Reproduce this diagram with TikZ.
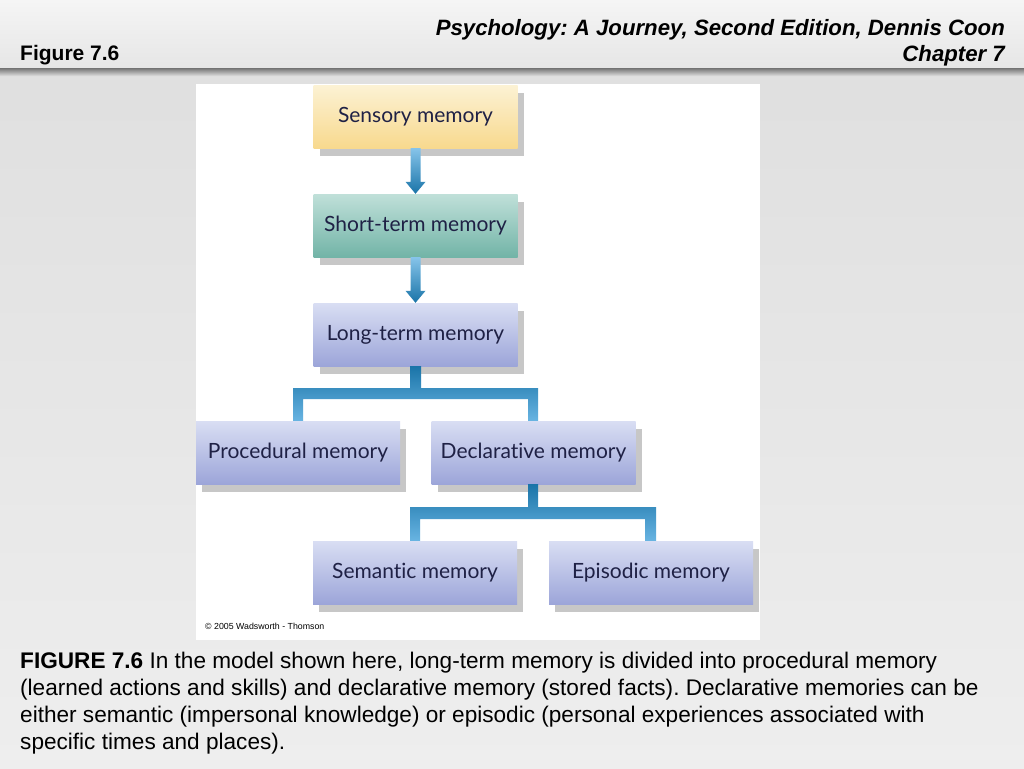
\documentclass[tikz,border=0pt]{standalone}
\usepackage{fontspec}
\setmainfont{Liberation Sans}
\newfontfamily\boxfont[Ligatures={NoCommon,NoRare}]{Lato}
\usetikzlibrary{shadows,calc}
\frenchspacing
\definecolor{bgA}{HTML}{DEDEDE}
\definecolor{bgB}{HTML}{EEEEEE}
\definecolor{hdTop}{HTML}{F5F5F5}
\definecolor{hdBot}{HTML}{E6E6E6}
\definecolor{sensTop}{HTML}{FCF2D4}
\definecolor{sensBot}{HTML}{F8D98E}
\definecolor{stmTop}{HTML}{C0E0D9}
\definecolor{stmBot}{HTML}{72B4A7}
\definecolor{lavTop}{HTML}{D9DEF3}
\definecolor{lavBot}{HTML}{9CA5D9}
\definecolor{boxText}{HTML}{1F2145}
\definecolor{arrLight}{HTML}{86C4EA}
\definecolor{arrDark}{HTML}{1A74A8}
\definecolor{conMid}{HTML}{2B8AC2}
\definecolor{conLight}{HTML}{68B4E2}
\begin{document}
\begin{tikzpicture}[x=1pt,y=-1pt,
  membox/.style={minimum width=204pt, minimum height=63pt, inner sep=0pt,
    font=\boxfont\fontsize{21}{24}\selectfont, text=boxText,
    drop shadow={shadow xshift=6pt, shadow yshift=-8pt, fill=black!22, opacity=1}},
  sensbox/.style={membox, top color=sensTop, bottom color=sensBot},
  stmbox/.style={membox, top color=stmTop, bottom color=stmBot},
  lavbox/.style={membox, top color=lavTop, bottom color=lavBot},
  arrowshade/.style={top color=arrLight, bottom color=arrDark},
  treeshade/.style={top color=arrDark, middle color=conMid, bottom color=conLight},
  captext/.style={anchor=base west, inner sep=0pt, font=\fontsize{22.6}{27}\selectfont, text=black},
  hdtext/.style={inner sep=0pt, font=\bfseries\itshape\fontsize{22.2}{24}\selectfont, text=black}
]
\useasboundingbox (0,0) rectangle (1024,768);
% slide background
\shade[top color=bgA, bottom color=bgB] (0,0) rectangle (1024,768);
% header band
\shade[top color=hdTop, bottom color=hdBot] (0,0) rectangle (1024,68);
\shade[top color=black!55, bottom color=bgA] (0,68) rectangle (1024,76);
\node[hdtext, anchor=base east] (title) at (1005,36) {Psychology: A Journey, Second Edition, Dennis Coon};
\node[hdtext, anchor=base east] (chap) at (1005,61) {Chapter 7};
\node[inner sep=0pt, anchor=base west, font=\bfseries\fontsize{21}{24}\selectfont] (fig) at (20,60) {Figure 7.6};
% white panel
\fill[white] (196,84) rectangle (760,640);
% boxes
\node[sensbox] (sm)  at (415.5,116.5) {Sensory memory};
\node[stmbox]  (stm) at (415.5,225.5) {Short-term memory};
\node[lavbox]  (ltm) at (415.5,334.5) {Long-term memory};
\node[lavbox]  (pm)  at (298,452.5)   {Procedural memory};
\node[lavbox]  (dm)  at (533.5,452.5) {Declarative memory};
\node[lavbox]  (sem) at (415,572.5)   {Semantic memory};
\node[lavbox]  (epi) at (651,572.5)   {Episodic memory};
% arrows
\shade[arrowshade] ($(sm.south)+(-5,0)$) -- ($(sm.south)+(5,0)$) -- ($(stm.north)+(5,-12)$) -- ($(stm.north)+(10,-12)$) -- (stm.north) -- ($(stm.north)+(-10,-12)$) -- ($(stm.north)+(-5,-12)$) -- cycle;
\shade[arrowshade] ($(stm.south)+(-5,0)$) -- ($(stm.south)+(5,0)$) -- ($(ltm.north)+(5,-12)$) -- ($(ltm.north)+(10,-12)$) -- (ltm.north) -- ($(ltm.north)+(-10,-12)$) -- ($(ltm.north)+(-5,-12)$) -- cycle;
% tree 1
\coordinate (ta) at ($(ltm.south)+(0,22)$);
\coordinate (tb) at ($(ltm.south)+(0,33)$);
\shade[treeshade] ($(ltm.south)+(-5.5,0)$) -- ($(ltm.south)+(5.5,0)$) -- ($(ta)+(5.5,0)$)
  -- ($(dm.north|-ta)+(4.5,0)$) -- ($(dm.north)+(4.5,0)$) -- ($(dm.north)+(-5.5,0)$)
  -- ($(dm.north|-tb)+(-5.5,0)$) -- ($(pm.north|-tb)+(5,0)$) -- ($(pm.north)+(5,0)$)
  -- ($(pm.north)+(-5,0)$) -- ($(pm.north|-ta)+(-5,0)$) -- ($(ta)+(-5.5,0)$) -- cycle;
% tree 2
\coordinate (tc) at ($(dm.south)+(0,23)$);
\coordinate (td) at ($(dm.south)+(0,35)$);
\shade[treeshade] ($(dm.south)+(-5.5,0)$) -- ($(dm.south)+(4.5,0)$) -- ($(tc)+(4.5,0)$)
  -- ($(epi.north|-tc)+(5,0)$) -- ($(epi.north)+(5,0)$) -- ($(epi.north)+(-6,0)$)
  -- ($(epi.north|-td)+(-6,0)$) -- ($(sem.north|-td)+(5,0)$) -- ($(sem.north)+(5,0)$)
  -- ($(sem.north)+(-5,0)$) -- ($(sem.north|-tc)+(-5,0)$) -- ($(tc)+(-5.5,0)$) -- cycle;
% copyright
\node[anchor=west, inner sep=0pt, font=\fontsize{8.8}{10}\selectfont] (copy) at (205,626) {© 2005 Wadsworth - Thomson};
% caption
\node[captext] (cap1) at (20,668) {\textbf{FIGURE 7.6} In the model shown here, long-term memory is divided into procedural memory};
\node[captext] (cap2) at (20,695) {(learned actions and skills) and declarative memory (stored facts). Declarative memories can be};
\node[captext] (cap3) at (20,722) {either semantic (impersonal knowledge) or episodic (personal experiences associated with};
\node[captext] (cap4) at (20,749) {specific times and places).};
\end{tikzpicture}
\end{document}
